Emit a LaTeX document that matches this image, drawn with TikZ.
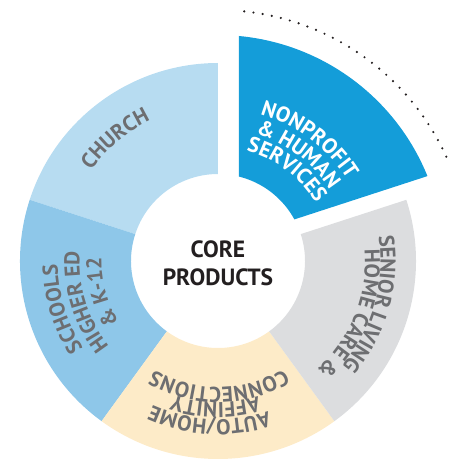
\documentclass[tikz,border=0pt]{standalone}
\usepackage{fontspec}
\setmainfont{PT Sans}
\usetikzlibrary{decorations.text}
\definecolor{churchc}{HTML}{B7DCF1}
\definecolor{schoolc}{HTML}{8EC7E9}
\definecolor{autoc}{HTML}{FDEBC8}
\definecolor{seniorc}{HTML}{DCDDDF}
\definecolor{nonprofc}{HTML}{149DD9}
\definecolor{txtgray}{HTML}{6D6E71}
\definecolor{coretxt}{HTML}{231F20}
\newcommand\ringfont{\fontsize{21.5}{21.5}\selectfont\bfseries}
\newcommand\arclabel[4]{%
  \path[decorate, decoration={text along path, text align=center,
    text={|\ringfont\color{#3}|#4}}]
    ({#1+70}:#2) arc[start angle={#1+70}, end angle={#1-70}, radius=#2];}
\newcommand\ringseg[3]{% start, end, colour
  \fill[#3] (#1:198) arc[start angle=#1, end angle=#2, radius=198]
    -- (#2:87) arc[start angle=#2, end angle=#1, radius=87] -- cycle;}
\begin{document}
\begin{tikzpicture}[x=1pt,y=1pt,
  dotarc/.style={draw=coretxt, line width=2.4pt, line cap=round, dash pattern=on 0pt off 9.3pt},
  coretext/.style={font=\fontsize{23.5}{28.5}\selectfont\bfseries, text=coretxt, align=center}]
\useasboundingbox (-218,-200) rectangle (241,261);
\ringseg{90}{162}{churchc}
\ringseg{162}{234}{schoolc}
\ringseg{234}{306}{autoc}
\ringseg{306}{378}{seniorc}
\fill[nonprofc] (21,84.4) -- (21,225.0) arc[start angle=84.67, end angle=22.07, radius=226]
  -- (76.4,41.6) arc[start angle=28.57, end angle=76.03, radius=87] -- cycle;
\draw[dotarc] (84:251) arc[start angle=84, end angle=23.6, radius=251];
\node[coretext] (core) at (0,-2.5) {CORE\\PRODUCTS};
\arclabel{130}{156}{txtgray}{CHURCH}
\arclabel{53}{152.5}{white}{NONPROFIT}
\arclabel{53}{132.5}{white}{{\&} HUMAN}
\arclabel{53}{113.5}{white}{SERVICES}
\arclabel{-15.7}{162.5}{txtgray}{SENIOR LIVING}
\arclabel{-21.8}{147}{txtgray}{HOME CARE {\&}}
\arclabel{267}{158.5}{txtgray}{AUTO/HOME}
\arclabel{269}{141.5}{txtgray}{AFFINITY}
\arclabel{270.5}{126.5}{txtgray}{CONNECTIONS}
\arclabel{197}{160.5}{txtgray}{SCHOOLS}
\arclabel{197}{138.5}{txtgray}{HIGHER ED}
\arclabel{195}{116.5}{txtgray}{{\&} K-12}
\end{tikzpicture}
\end{document}
